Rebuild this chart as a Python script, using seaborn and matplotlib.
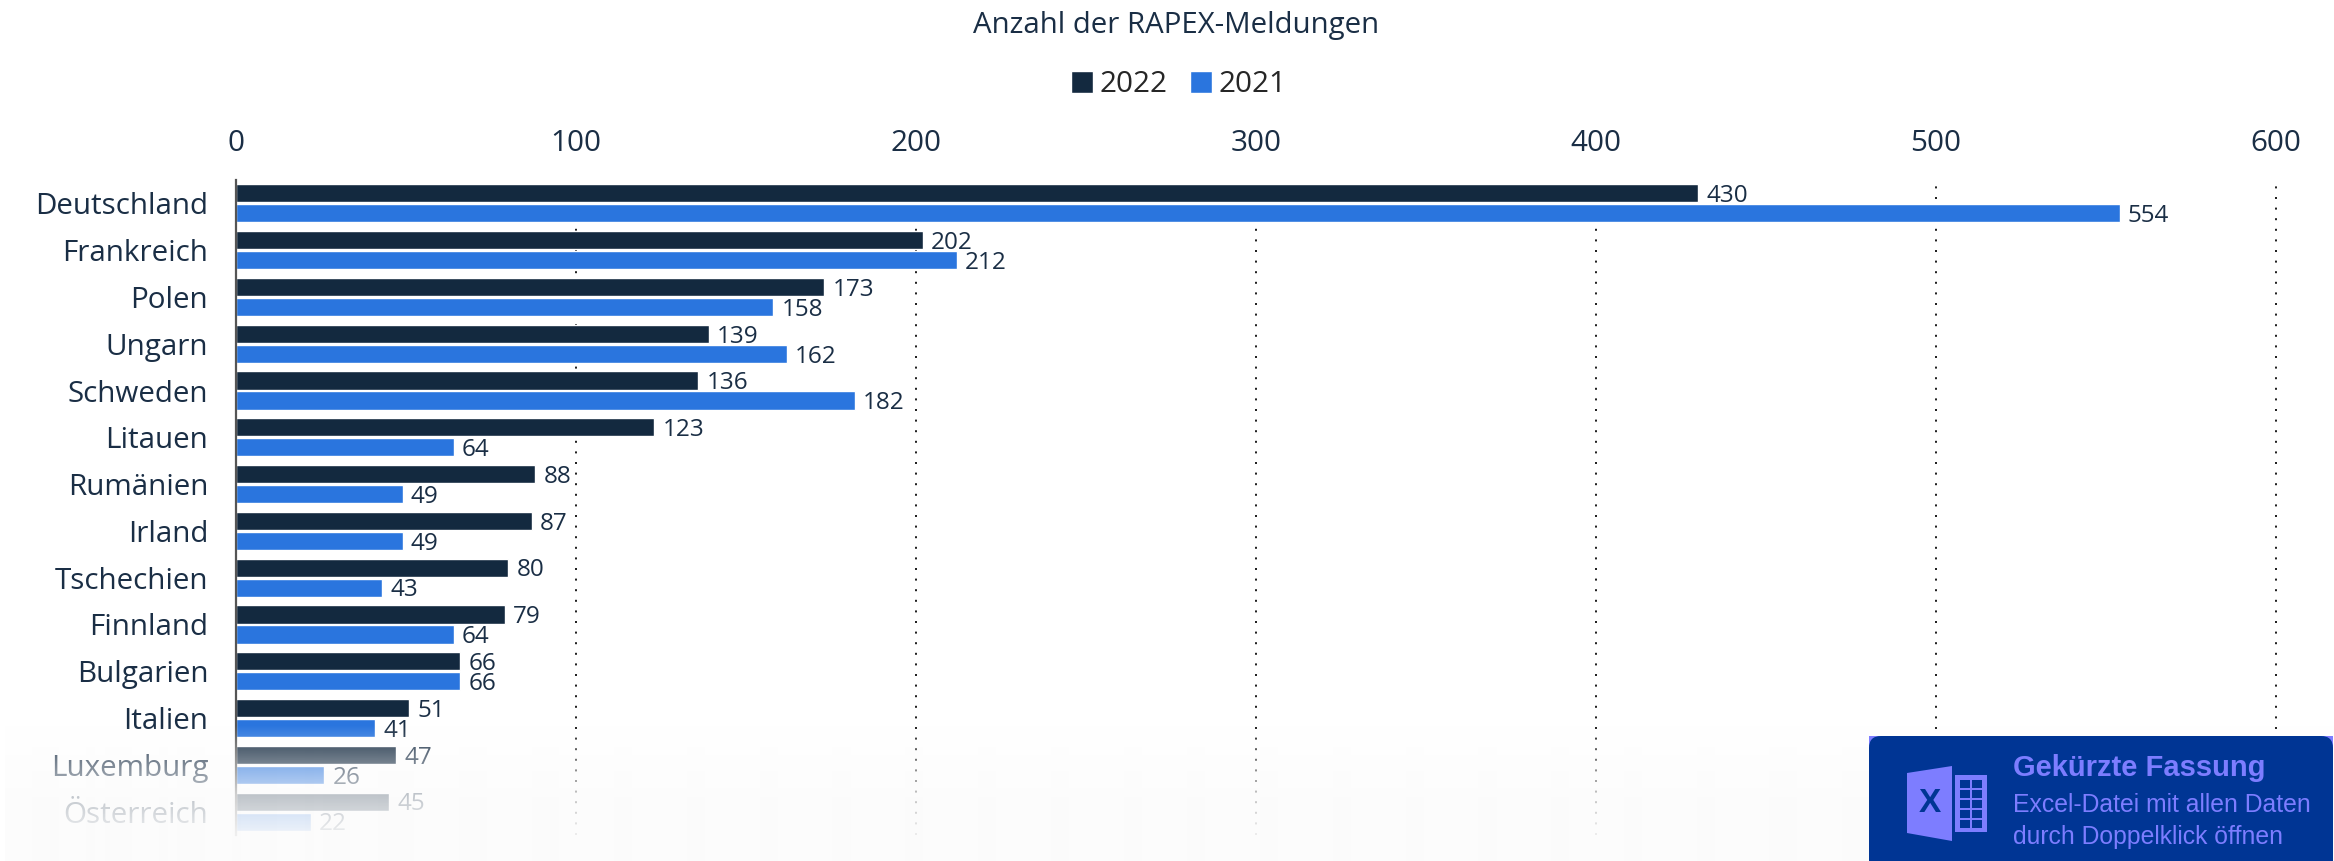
import numpy as np
import pandas as pd
import matplotlib.pyplot as plt
import seaborn as sns
from matplotlib.patches import FancyBboxPatch, Polygon, Rectangle

# Values
countries = ['Deutschland', 'Frankreich', 'Polen', 'Ungarn', 'Schweden', 'Litauen', 'Rumänien',
             'Irland', 'Tschechien', 'Finnland', 'Bulgarien', 'Italien', 'Luxemburg', 'Österreich']
values_2022 = [430, 202, 173, 139, 136, 123, 88, 87, 80, 79, 66, 51, 47, 45]
values_2021 = [554, 212, 158, 162, 182, 64, 49, 49, 43, 64, 66, 41, 26, 22]
x_ticks = [0, 100, 200, 300, 400, 500, 600]

DARK = '#13293f'
BLUE = '#2a75de'
TEXT = '#1a2e45'
W, H = 2334, 861

df = pd.DataFrame({
    'Land': countries * 2,
    'Jahr': ['2022'] * len(countries) + ['2021'] * len(countries),
    'Anzahl': values_2022 + values_2021,
})

sns.set_theme(style='white')
plt.rcParams['font.family'] = ['Open Sans', 'DejaVu Sans']

fig = plt.figure(figsize=(W / 100, H / 100), dpi=100, facecolor='white')
ax = fig.add_axes([236 / W, 1 - 835 / H, 2040 / W, 655 / H])

sns.barplot(data=df, y='Land', x='Anzahl', hue='Jahr', order=countries, hue_order=['2022', '2021'],
            palette=[DARK, BLUE], width=0.855, gap=0.09, saturation=1, ax=ax, zorder=2)

ax.set_xlim(0, 600)
ax.set_ylim(13.5, -0.5)
ax.set_xlabel('')
ax.set_ylabel('')
ax.xaxis.tick_top()
ax.set_xticks(x_ticks)
ax.tick_params(axis='x', length=0, pad=15.7, labelsize=21.3, labelcolor=TEXT)
ax.tick_params(axis='y', length=0, pad=20, labelsize=21.3, labelcolor=TEXT)
ax.patch.set_alpha(0)

# dotted grid, solid zero line
ax.grid(False)
for tick in x_ticks[1:]:
    ax.axvline(tick, color='#222222', lw=1.44, ls=(0, (1, 4.3)), zorder=1, clip_on=False)
sns.despine(ax=ax, top=True, right=True, bottom=True)
ax.spines['left'].set_color('#555555')
ax.spines['left'].set_linewidth(1.6)

for container in ax.containers:
    for label in ax.bar_label(container, padding=6, fontsize=17.5, color=TEXT):
        label.xyann = (6, -2)

sns.move_legend(ax, 'center', bbox_to_anchor=(1179 / W, 1 - 85 / H), bbox_transform=fig.transFigure,
                ncol=2, frameon=False, title=None, fontsize=21.3, handlelength=0.75, handleheight=0.75,
                handletextpad=0.22, columnspacing=0.75, borderpad=0)

fig.text(1176 / W, 1 - 26 / H, 'Anzahl der RAPEX-Meldungen', ha='center', va='center',
         fontsize=21.2, color=TEXT)

# overlay in pixel coordinates: bottom fade and the Excel badge
over = fig.add_axes([0, 0, 1, 1], zorder=5)
over.set_xlim(0, W)
over.set_ylim(H, 0)
over.axis('off')

rows = np.arange(725, H)
fade = np.interp(rows, [725, 747, 763, 794, 810, 830, 861], [0, 0.26, 0.43, 0.74, 0.82, 0.92, 0.99])
rgba = np.ones((len(rows), 1, 4))
rgba[..., :3] = 252 / 255
rgba[:, 0, 3] = fade
over.imshow(rgba, extent=(5, W, H, 725), aspect='auto', interpolation='bilinear')
over.set_xlim(0, W)
over.set_ylim(H, 0)

PURPLE = '#7d7dff'
NAVY = '#003594'
over.add_patch(Rectangle((1869, 736), 464, 125, fc=PURPLE, ec='none'))
over.add_patch(FancyBboxPatch((1869 + 12, 736 + 12), 464 - 24, 160, boxstyle='round,pad=12,rounding_size=12',
                              fc=NAVY, ec='none'))
over.add_patch(Polygon([(1907, 773), (1952, 766), (1952, 841), (1907, 833)], fc=PURPLE, ec='none'))
over.add_patch(Rectangle((1955, 775), 32, 57, fc=PURPLE, ec='none'))
for cell_y in [780, 790, 800, 810, 820]:
    over.add_patch(Rectangle((1960, cell_y), 10, 7.5, fc=NAVY, ec='none'))
    over.add_patch(Rectangle((1972, cell_y), 10, 7.5, fc=NAVY, ec='none'))
over.text(1930, 804, 'X', ha='center', va='center', color=NAVY, fontsize=24, fontweight='bold',
          family='Liberation Sans')
over.text(2013, 776, 'Gekürzte Fassung', ha='left', va='baseline', color=PURPLE, fontsize=21,
          fontweight='bold', family='Liberation Sans')
over.text(2013, 812, 'Excel-Datei mit allen Daten', ha='left', va='baseline', color=PURPLE, fontsize=17.8,
          family='Liberation Sans')
over.text(2013, 844, 'durch Doppelklick öffnen', ha='left', va='baseline', color=PURPLE, fontsize=17.8,
          family='Liberation Sans')

fig.savefig('out.png', dpi=100)
